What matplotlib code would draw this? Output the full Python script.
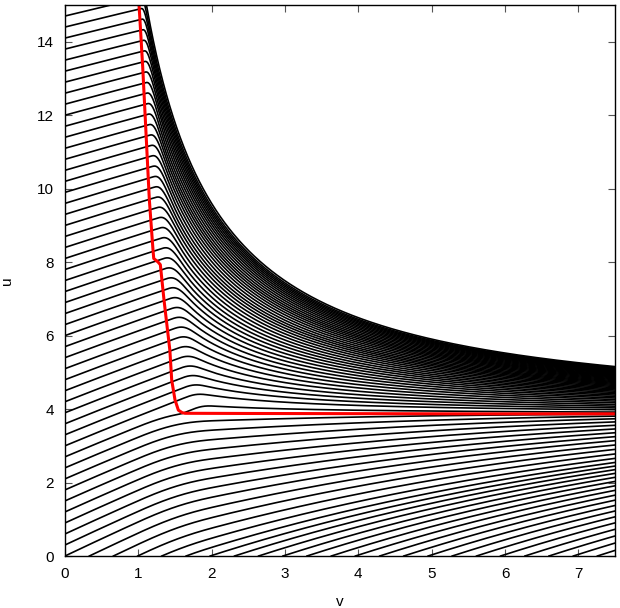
import numpy as np
import matplotlib.pyplot as plt

# Starting points of the black curves
u_left = [0.3, 0.6, 0.9, 1.2, 1.5, 1.8, 2.1, 2.4, 2.7, 3.0,
          3.3, 3.6, 3.9, 4.2, 4.5, 4.8, 5.1, 5.4, 5.7, 6.0,
          6.3, 6.6, 6.9, 7.2, 7.5, 7.8, 8.1, 8.4, 8.7, 9.0,
          9.3, 9.6, 9.9, 10.2, 10.5, 10.8, 11.1, 11.4, 11.7, 12.0,
          12.3, 12.6, 12.9, 13.2, 13.5, 13.8, 14.1, 14.4, 14.7, 15.0]
v_bottom = [0.0, 0.33, 0.66, 0.99, 1.32, 1.65, 1.98, 2.31, 2.64, 2.97,
            3.3, 3.63, 3.96, 4.29, 4.62, 4.95, 5.28, 5.61, 5.94, 6.27,
            6.6, 6.93, 7.26]

# Red curve
red_v = [1.01, 1.06, 1.105, 1.15, 1.2, 1.21, 1.27, 1.30, 1.35, 1.43,
         1.455, 1.50, 1.546, 1.60, 1.637, 2.5, 4.0, 5.5, 7.5]
red_u = [15.0, 13.3, 11.5, 9.7, 8.33, 8.1, 8.0, 7.93, 6.97, 5.6,
         4.79, 4.25, 3.97, 3.90, 3.885, 3.88, 3.875, 3.87, 3.87]

# where the black curves turn over (smoothed red front)
turn_u = [3.87, 4.3, 5.0, 6.0, 8.0, 10.0, 12.0, 15.0, 17.0]
turn_v = [1.64, 1.52, 1.46, 1.40, 1.26, 1.15, 1.08, 1.01, 0.97]

u_star = 3.87   # level the curves settle on
p = 1.13        # decay exponent behind the front


def slope(u, v):
    w = u - u_star
    g = 0.95 * np.exp(-0.046 * u)
    above = w > 0
    depth = np.clip(15 - u, 0, None)
    d = 0.02 + 0.008 * depth
    ramp = np.where(above, 0.09 + 0.025 * depth, 1.2)
    vs = np.where(above, np.interp(u, turn_u, turn_v) + d, 0.9)
    t = np.clip((v - vs) / ramp, 0, 1)
    s = t * t * (3 - 2 * t)
    after = np.where(above, -p * w / max(v, 1e-3),
                     g * 0.68 * (np.clip(-w, 0, None) / u_star) ** 0.7)
    return (1 - s) * g + s * after


# integrate all curves together
dv = 0.004
v = np.arange(0, 7.5 + dv, dv)
v_start = np.array([0.0] * len(u_left) + v_bottom)
u = np.array(u_left + [0.0] * len(v_bottom))
paths = np.full((len(u), len(v)), np.nan)
for i, vi in enumerate(v):
    active = v_start <= vi + 1e-9
    paths[active, i] = u[active]
    k1 = slope(u, vi)
    k2 = slope(u + dv * k1, vi + dv)
    u = np.where(active, u + 0.5 * dv * (k1 + k2), u)
    u = np.minimum(u, 16.5)

fig = plt.figure(figsize=(6.2, 6.08), dpi=100)
ax = fig.add_axes([65 / 620, 52 / 608, 550 / 620, 551 / 608])
for row in paths:
    ax.plot(v, row, color='black', lw=1.2)
ax.plot(red_v, red_u, color='red', lw=2.2)

ax.set_xlim(0, 7.5)
ax.set_ylim(0, 15)
ax.set_xticks(range(0, 8))
ax.set_yticks(range(0, 15, 2))
ax.tick_params(direction='in', top=True, right=True, length=5,
               labelsize=11, color='#555555', pad=8)
ax.set_xlabel('v', fontsize=11, family='Liberation Sans', labelpad=10)
ax.set_ylabel('u', fontsize=11, family='Liberation Sans')
ax.yaxis.set_label_coords(-0.093, 0.5)
for lab in ax.get_xticklabels() + ax.get_yticklabels():
    lab.set_family('Liberation Sans')
for sp in ax.spines.values():
    sp.set_linewidth(1.0)
fig.savefig('out.png', dpi=100)
